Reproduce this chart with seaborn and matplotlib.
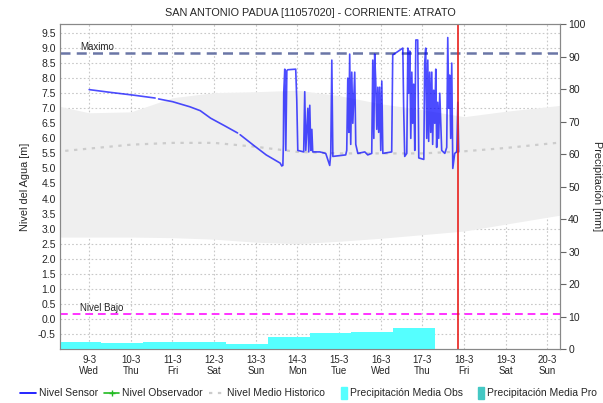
import numpy as np
import pandas as pd
import matplotlib
matplotlib.use("Agg")
import matplotlib.pyplot as plt
import matplotlib.dates as mdates
from matplotlib.lines import Line2D
from matplotlib.patches import Patch, Rectangle
from matplotlib.legend_handler import HandlerPatch
import seaborn as sns

# --- data ---
# sensor, smooth part: hours since 2022-03-09 00:00
smooth_hours = [0, 12, 25, 38, 40, 48, 58, 64, 70, 78, 85.5, 87, 94.5, 102, 110, 111]
smooth_level = [7.62, 7.53, 7.44, 7.34, 7.31, 7.22, 7.05, 6.92, 6.67, 6.42, 6.18,
                6.12, 5.78, 5.45, 5.18, 5.08]
smooth_seg = [0, 0, 0, 0, 1, 1, 1, 1, 1, 1, 1, 2, 2, 2, 2, 2]

# sensor, erratic part: hours since 2022-03-13 00:00
erratic_hours = [15.6, 15.9, 16.1, 16.7, 17.3, 17.9, 18.4, 23.0, 23.6, 24.2, 27.6, 28.2, 28.8,
                 30.0, 30.5, 31.1, 31.7, 32.3, 32.8, 36.9, 40.3, 42.6, 43.2, 43.8, 44.4, 51.8,
                 52.4, 53.0, 53.6, 54.1, 54.7, 55.3, 55.9, 57.0, 57.6, 58.8, 62.8, 64.5, 66.8,
                 67.4, 68.0, 68.5, 69.1, 69.7, 70.3, 70.8, 71.4, 72.0, 72.6, 73.2, 78.3, 78.9,
                 84.7, 85.2, 85.8, 87.0, 87.6, 88.1, 88.7, 89.3, 89.9, 90.4, 91.0, 91.6, 92.2,
                 93.3, 93.9, 96.8, 97.3, 97.9, 98.5, 99.1, 99.6, 100.2, 100.8, 101.4, 101.9,
                 102.5, 103.1, 103.7, 104.2, 104.8, 105.4, 106.0, 107.1, 108.9, 110.0, 110.6,
                 111.2, 111.7, 112.3, 112.9, 113.5, 114.6, 115.8, 116.4, 116.9]
erratic_level = [5.1, 5.8, 7.5, 8.3, 5.6, 8.25, 8.28, 8.3, 7.3, 5.6, 5.55, 7.55, 5.6,
                 7.0, 5.55, 7.1, 5.6, 6.3, 5.55, 5.55, 5.5, 5.1, 5.5, 8.6, 5.4, 5.45,
                 5.6, 8.0, 6.2, 8.8, 5.8, 8.2, 6.5, 8.2, 5.8, 5.5, 5.55, 5.45, 5.5,
                 8.6, 6.0, 8.8, 7.9, 6.3, 7.7, 6.2, 7.7, 5.6, 7.9, 5.5, 5.55, 8.77,
                 9.0, 7.0, 5.4, 5.5, 9.0, 7.5, 8.9, 6.0, 8.2, 6.5, 7.8, 5.6, 9.27,
                 9.27, 5.35, 5.3, 8.5, 9.0, 6.0, 8.6, 5.9, 8.2, 6.2, 8.2, 5.8,
                 7.6, 6.5, 8.3, 5.7, 7.2, 6.0, 7.5, 5.6, 5.5, 5.7, 9.35,
                 7.0, 8.1, 6.0, 8.5, 5.0, 5.5, 5.55, 7.2, 5.55]

# historic band and mean, daily from 2022-03-08
hist_days = pd.date_range("2022-03-08", "2022-03-21", freq="D")
hist_upper = [7.15, 6.85, 6.88, 7.35, 7.52, 7.55, 7.60, 7.42, 7.15, 6.95, 6.72, 6.90, 7.05, 7.20]
hist_lower = [2.72, 2.72, 2.72, 2.70, 2.65, 2.55, 2.50, 2.58, 2.68, 2.80, 2.92, 3.15, 3.38, 3.60]
hist_mean = [5.53, 5.66, 5.79, 5.85, 5.85, 5.72, 5.55, 5.50, 5.50, 5.50, 5.57, 5.68, 5.82, 5.95]

# precipitation (mm), step values starting at each time
precip_times = pd.to_datetime(["2022-03-08 07:00", "2022-03-08 08:00", "2022-03-09 07:00",
                               "2022-03-10 07:00", "2022-03-11 07:00", "2022-03-12 07:00",
                               "2022-03-13 07:00", "2022-03-14 07:00", "2022-03-15 07:00",
                               "2022-03-16 07:00", "2022-03-17 07:00"])
precip_mm = [14.0, 2.1, 1.7, 2.3, 2.3, 1.5, 3.8, 5.0, 5.3, 6.5, 6.5]

nivel_maximo = 8.85
nivel_bajo = 0.15
now = pd.Timestamp("2022-03-17 20:45")

# --- build frames ---
sm = pd.DataFrame({
    "time": pd.Timestamp("2022-03-09") + pd.to_timedelta(smooth_hours, unit="h"),
    "level": smooth_level, "seg": smooth_seg})
er = pd.DataFrame({
    "time": pd.Timestamp("2022-03-13") + pd.to_timedelta(erratic_hours, unit="h"),
    "level": erratic_level, "seg": 3})
sensor = pd.concat([sm, er], ignore_index=True)
hist = pd.DataFrame({"time": hist_days, "mean": hist_mean})

sns.set_style("white")
plt.rcParams["font.family"] = ["Liberation Sans", "DejaVu Sans"]

fig = plt.figure(figsize=(6.03, 4.03), dpi=100)
ax = fig.add_axes([0.0995, 0.134, 0.829, 0.8064])

ax.fill_between(hist_days, hist_lower, hist_upper, color="#efefef", lw=0, zorder=1)
sns.lineplot(data=hist, x="time", y="mean", ax=ax, color="#cccccc", lw=1.6,
             linestyle=(0, (1.5, 2.5)), zorder=2, legend=False)
sns.lineplot(data=sensor, x="time", y="level", units="seg", estimator=None, ax=ax,
             color="#0000ff", lw=1.2, alpha=0.7, zorder=4, legend=False, sort=False)

ax.axhline(nivel_maximo, color="#6b76a6", lw=1.8, ls=(0, (4, 2.5)), zorder=3)
ax.axhline(nivel_bajo, color="#ff33ff", lw=1.4, ls=(0, (4, 2.5)), zorder=3)
ax.text(0.04, nivel_maximo + 0.03, "Maximo", transform=ax.get_yaxis_transform(),
        fontsize=7, va="bottom", ha="left")
ax.text(0.04, nivel_bajo + 0.03, "Nivel Bajo", transform=ax.get_yaxis_transform(),
        fontsize=7, va="bottom", ha="left")
ax.axvline(now, color="#e8201c", lw=1.2, zorder=6)

ax.set_xlim(pd.Timestamp("2022-03-08 07:12"), pd.Timestamp("2022-03-20 07:12"))
ax.set_ylim(-1.0, 9.8)
ax.set_yticks(np.arange(-0.5, 9.51, 0.5))
ax.set_yticklabels([f"{v:.1f}" for v in np.arange(-0.5, 9.51, 0.5)])
ax.xaxis.set_major_locator(mdates.DayLocator())
ax.xaxis.set_major_formatter(mdates.DateFormatter("%-d-%-m\n%a"))
ax.xaxis.set_minor_locator(mdates.HourLocator(interval=2))
ax.tick_params(axis="x", which="major", length=0, labelsize=7, pad=4)
ax.tick_params(axis="x", which="minor", length=2, width=0.6, direction="in", color="#333333")
ax.tick_params(axis="y", length=0, labelsize=7.5, pad=3)
ax.grid(True, color="#c8c8c8", ls=(0, (1.5, 2)), lw=0.8)
ax.set_xlabel("")
ax.set_ylabel("Nivel del Agua [m]", fontsize=7.8, labelpad=6)
ax.set_title("SAN ANTONIO PADUA [11057020] - CORRIENTE: ATRATO", fontsize=7.8, pad=6)
for s in ax.spines.values():
    s.set_color("#888888")
    s.set_linewidth(0.8)

ax2 = ax.twinx()
ax2.fill_between(precip_times, 0, precip_mm, step="post", color="#55ffff", lw=0, zorder=2)
ax2.set_ylim(0, 100)
ax2.set_yticks(range(0, 101, 10))
ax2.tick_params(axis="y", length=4, color="#666666", labelsize=7.5, pad=2)
ax2.set_ylabel("Precipitación [mm]", fontsize=7.8, rotation=270, labelpad=12)
for s in ax2.spines.values():
    s.set_color("#888888")
    s.set_linewidth(0.8)


def narrow_box(legend, orig_handle, xdescent, ydescent, width, height, fontsize):
    w = width * 0.4
    return Rectangle((width - w - xdescent, -ydescent - 1.5), w, height + 3)


handles = [
    Line2D([], [], color="#0000ff", lw=1.2),
    Line2D([], [], color="#22bb22", lw=1.2, marker="+", markersize=4),
    Line2D([], [], color="#cccccc", lw=1.6, ls=(0, (1.5, 2.5))),
    Patch(color="#55ffff"),
    Patch(color="#44c8c4"),
]
labels = ["Nivel Sensor", "Nivel Observador", "Nivel Medio Historico",
          "Precipitación Media Obs", "Precipitación Media Pro"]
fig.legend(handles, labels, loc="lower center", bbox_to_anchor=(0.512, -0.012), ncol=5,
           frameon=False, fontsize=7.5, handlelength=1.45, handletextpad=0.3,
           columnspacing=0.6, handler_map={Patch: HandlerPatch(patch_func=narrow_box)})

fig.savefig("out.png", dpi=100)
